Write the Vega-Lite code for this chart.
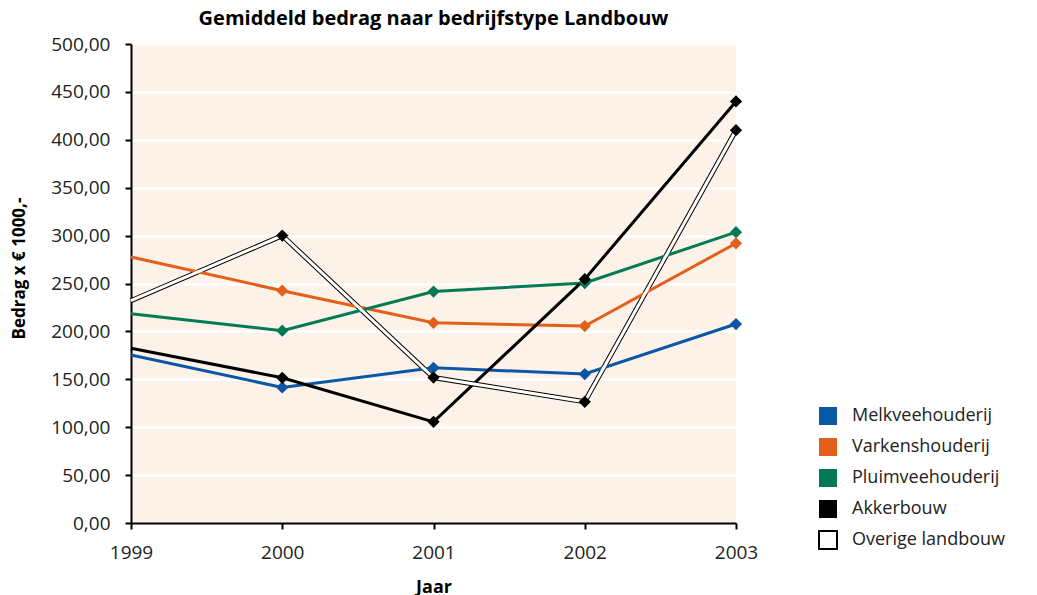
{
  "$schema": "https://vega.github.io/schema/vega-lite/v6.json",
  "width": 605,
  "height": 479,
  "autosize": {"type": "none"},
  "padding": {"left": 131, "top": 44, "right": 301, "bottom": 72},
  "background": "white",
  "title": {"text": "Gemiddeld bedrag naar bedrijfstype Landbouw", "font": "Open Sans", "fontSize": 20, "fontWeight": "bold", "color": "black", "anchor": "middle", "offset": 6},
  "config": {"view": {"fill": "#FCF2E8", "stroke": null}, "font": "Open Sans"},
  "data": {"values": [
    {"Jaar": 1999, "serie": "Melkveehouderij", "bedrag": 175.4},
    {"Jaar": 2000, "serie": "Melkveehouderij", "bedrag": 141.5},
    {"Jaar": 2001, "serie": "Melkveehouderij", "bedrag": 162.0},
    {"Jaar": 2002, "serie": "Melkveehouderij", "bedrag": 155.5},
    {"Jaar": 2003, "serie": "Melkveehouderij", "bedrag": 207.7},
    {"Jaar": 1999, "serie": "Varkenshouderij", "bedrag": 277.7},
    {"Jaar": 2000, "serie": "Varkenshouderij", "bedrag": 242.5},
    {"Jaar": 2001, "serie": "Varkenshouderij", "bedrag": 209.0},
    {"Jaar": 2002, "serie": "Varkenshouderij", "bedrag": 205.6},
    {"Jaar": 2003, "serie": "Varkenshouderij", "bedrag": 292.0},
    {"Jaar": 1999, "serie": "Pluimveehouderij", "bedrag": 218.5},
    {"Jaar": 2000, "serie": "Pluimveehouderij", "bedrag": 200.8},
    {"Jaar": 2001, "serie": "Pluimveehouderij", "bedrag": 241.6},
    {"Jaar": 2002, "serie": "Pluimveehouderij", "bedrag": 250.5},
    {"Jaar": 2003, "serie": "Pluimveehouderij", "bedrag": 303.6},
    {"Jaar": 1999, "serie": "Akkerbouw", "bedrag": 182.5},
    {"Jaar": 2000, "serie": "Akkerbouw", "bedrag": 151.6},
    {"Jaar": 2001, "serie": "Akkerbouw", "bedrag": 105.6},
    {"Jaar": 2002, "serie": "Akkerbouw", "bedrag": 254.5},
    {"Jaar": 2003, "serie": "Akkerbouw", "bedrag": 440.0},
    {"Jaar": 1999, "serie": "Overige landbouw", "bedrag": 232.0},
    {"Jaar": 2000, "serie": "Overige landbouw", "bedrag": 300.0},
    {"Jaar": 2001, "serie": "Overige landbouw", "bedrag": 151.8},
    {"Jaar": 2002, "serie": "Overige landbouw", "bedrag": 126.5},
    {"Jaar": 2003, "serie": "Overige landbouw", "bedrag": 410.0}
  ]},
  "encoding": {
    "x": {"field": "Jaar", "type": "quantitative",
      "scale": {"domain": [1999, 2003], "nice": false, "zero": false},
      "axis": {"title": "Jaar", "values": [1999, 2000, 2001, 2002, 2003], "format": "d", "grid": false, "labelFlush": false,
        "domainColor": "black", "domainWidth": 2, "tickColor": "black", "tickWidth": 2, "tickSize": 6,
        "labelPadding": 14, "labelFontSize": 19, "labelColor": "#222", "labelFont": "Open Sans",
        "titleFontSize": 18, "titleFontWeight": "bold", "titleColor": "black", "titleFont": "Open Sans", "titlePadding": 16}},
    "y": {"field": "bedrag", "type": "quantitative",
      "scale": {"domain": [0, 500], "nice": false},
      "axis": {"title": "Bedrag x € 1000,-", "values": [0, 50, 100, 150, 200, 250, 300, 350, 400, 450, 500],
        "labelExpr": "replace(format(datum.value, '.2f'), '.', ',')",
        "grid": true, "gridColor": "white", "gridWidth": 2.5,
        "domainColor": "black", "domainWidth": 2, "tickColor": "black", "tickWidth": 2, "tickSize": 6,
        "labelPadding": 15, "labelFontSize": 19, "labelColor": "#222", "labelFont": "Open Sans",
        "titleFontSize": 17, "titleFontWeight": "bold", "titleColor": "black", "titleFont": "Open Sans", "titlePadding": 22,
        "titleY": 224}}
  },
  "layer": [
    {
      "transform": [{"filter": "datum.serie === 'Overige landbouw'"}],
      "mark": {"type": "line", "color": "black", "strokeWidth": 5},
      "encoding": {}
    },
    {
      "mark": {"type": "line", "strokeWidth": 3},
      "encoding": {
        "detail": {"field": "serie", "type": "nominal"},
        "stroke": {"condition": [
          {"test": "datum.serie === 'Melkveehouderij'", "value": "#0B56A5"},
          {"test": "datum.serie === 'Varkenshouderij'", "value": "#E2601A"},
          {"test": "datum.serie === 'Pluimveehouderij'", "value": "#037A55"},
          {"test": "datum.serie === 'Akkerbouw'", "value": "#000000"}
        ], "value": "#FFFFFF"}
      }
    },
    {
      "transform": [{"filter": "datum.Jaar > 1999"}],
      "mark": {"type": "point", "shape": "diamond", "filled": true, "size": 150, "opacity": 1, "strokeWidth": 0},
      "encoding": {
        "fill": {"condition": {"test": "datum.serie === 'Overige landbouw'", "value": "black"},
          "field": "serie", "type": "nominal",
          "scale": {"domain": ["Melkveehouderij", "Varkenshouderij", "Pluimveehouderij", "Akkerbouw", "Overige landbouw"],
                    "range": ["#0B56A5", "#E2601A", "#037A55", "#000000", "#FFFFFF"]},
          "legend": {"title": null, "orient": "none", "legendX": 687, "legendY": 362,
            "symbolType": "square", "symbolSize": 324, "labelFontSize": 18, "labelColor": "#222", "labelFont": "Open Sans",
            "labelLimit": 0, "rowPadding": 5, "labelOffset": 14, "symbolOpacity": 1,
            "symbolStrokeColor": {"expr": "datum.value === 'Overige landbouw' ? 'black' : 'transparent'"},
            "symbolStrokeWidth": 2}
        }
      }
    }
  ]
}
